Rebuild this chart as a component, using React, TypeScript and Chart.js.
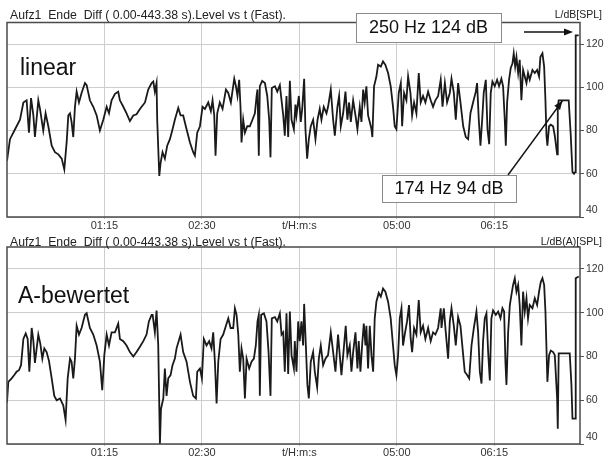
import React, { useEffect, useRef } from 'react';
import { Chart, registerables } from 'chart.js';

Chart.register(...registerables);

// ---- data (time in s, level in dB) ----
const linearTime = [
  0, 2.3, 6.2, 10, 12.6, 15.1, 16.9, 18.5, 20.3, 21.5, 24.1, 25.4, 27.9, 29.7, 31.8, 34.4, 36.9, 39.5, 42.1, 44.1,
  45.9, 47.2, 48.5, 49.7, 51, 52.3, 53.6, 55.4, 57.4, 60, 61.3, 63.8, 66.4, 69, 71.5, 74.1, 76.7, 78.5, 80.5, 83.1,
  85.6, 86.9, 89.5, 92, 94.6, 97.2, 99.7, 102.3, 106.2, 108.7, 111.3,
  112.6, 113.8, 115.1, 115.6, 117.2, 118.2, 119.7, 121.5, 123.3, 125.4, 127.4, 129.2, 131.8, 133.6, 135.6, 138.2,
  140.8, 143.3, 144.6, 146.4, 148.5, 150.5, 152.3, 154.9, 156.9, 158.2, 159.5, 160.5, 161.8, 163.8, 165.9, 168.5,
  170.3, 172.3, 174.9, 176.2, 177.4, 178.7, 179.7, 180.5, 181.8, 183.1, 184.9, 186.9, 188.9, 190.8, 192.1, 192.8,
  193.8, 194.6, 196.4, 198.5, 200.3, 201.8, 202.8, 203.8, 206.2, 208, 210, 211.3, 212.6, 213.8, 215.1, 216.4,
  217.7, 219, 220.8,
  222, 222.8, 224.6, 226.1, 227.2, 228.7, 229.7, 231, 232.3, 233.8, 235.6, 237.4, 239, 240.7, 242, 243.8, 245.9,
  247.1, 249.2, 251, 252.3, 254.3, 255.6, 256.9, 258.7, 260.5, 262, 263.3, 264.6, 266.4, 268.2, 269.7, 271.5,
  272.8, 274.1, 275.3, 276.6, 277.9, 279.2, 280.5, 281.2, 282.5, 284.3, 285.6, 287.7, 289.4, 291.2, 293.3, 295.3,
  297.1, 298.4, 299.7, 301.5, 303.1, 304.1, 305.6, 307.4, 308.7, 310.5, 311.8, 313.3, 315.1, 316.9, 318.4, 320.2,
  322, 324.1, 326.1, 327.9, 329.7, 331.8,
  333.8, 335.2, 337, 338.7, 340.8, 342.1, 343.9, 345.4, 347.2, 349, 351.1, 353.1, 354.9, 356.7, 358.7, 360.8,
  361.8, 363.1, 364.4, 365.7, 366.9, 368.5, 369.8, 371.1, 372.3, 373.6, 375.4, 377.2, 378.7, 380.5, 381.8, 383.1,
  383.9, 384.9, 386.4, 387.7, 389, 390, 391.1, 392.1, 393.4, 394.6, 395.9, 397.2, 398.5, 399.8, 401, 402.3, 404.4,
  406.2, 408, 409.5, 410.5, 412.1, 413.4, 414.4, 415.2, 415.9, 417.2, 418.5, 420.3, 421.6, 423.4, 423.9, 424.6,
  432.3, 433.9, 435.2, 436.4, 437.2, 437.7, 440,
];
const linearLevel = [
  66, 76, 80.6, 85, 93, 94, 79, 95, 87, 77, 94, 90, 80, 88, 82, 73, 70, 69, 67, 62,
  74.5, 87, 88, 84, 77, 91, 98, 93, 97.4, 102, 101, 94, 91, 87, 80, 85, 91, 88, 94, 97,
  98, 94, 91, 88, 84.4, 87, 87.5, 90, 93, 99, 102,
  102.7, 98, 102, 85, 59, 65, 70, 67, 73, 76, 80.6, 85, 90.5, 87, 87, 80.6,
  74.5, 70, 68.4, 79, 82, 91, 90, 93, 89, 94, 87, 68.4, 88, 93, 90, 99,
  97.4, 93, 104, 100.5, 96, 103.5, 91, 74.5, 85, 79, 82, 82, 85, 88, 96, 99,
  68.4, 100.5, 103, 102, 96, 85, 67.6, 99.7, 100.5, 98, 101, 94, 87, 77.6, 96, 77,
  103, 85, 80.6,
  92, 87, 96, 84, 90, 104, 80.6, 67, 76, 82, 85, 76, 85, 90, 85, 91, 88,
  91, 99, 85, 77.6, 91, 96, 82, 88, 98, 85, 93, 84, 94, 87, 80.6, 91,
  84, 99, 93, 100.5, 87, 84, 80.6, 77, 100.5, 105, 110.4, 109.6, 112, 110.4, 106.6, 100.5,
  91, 82, 80.6, 97.4, 102, 82, 97.4, 94, 105, 97.4, 87, 93, 88, 106.6, 93, 96,
  93, 98, 94, 91, 94, 96,
  103.5, 91, 102, 93, 97.4, 104, 97.4, 85, 102, 93, 82, 77, 76, 88, 93, 98,
  102, 85, 73, 85, 97.4, 103.5, 80.6, 73.7, 97.4, 102.7, 100.5, 103.5, 100.5, 104, 100.5, 85,
  73, 93, 103.5, 109, 111, 115.7, 109.6, 114, 106.6, 112.7, 94, 108, 105, 102, 106.6, 103.5, 108,
  106.6, 108, 105, 114, 115.7, 109.6, 94, 77.6, 73, 82, 82.7, 82, 77.6, 69, 91, 94,
  94, 77.6, 60.8, 60, 60.8, 124, 124,
];

const aWeightedTime = [
  0, 1, 3.6, 5.6, 7.4, 9.2, 10.8, 12.6, 14.4, 15.9, 17.2, 19, 20.3, 21.5, 24.1, 25.6, 27.2, 28.7, 30.5, 32.3,
  34.4, 36.4, 38.2, 40.8, 43.3, 45.1, 46.7, 48.5, 49.7, 51, 52.3, 53.6, 55.4, 57.4, 60, 61.3, 63.8, 66.4, 69,
  71.5, 73.3, 74.9, 76.7, 78.5, 80.5, 83.1, 85.6, 86.9, 89.5, 92, 94.6, 97.2, 99.7, 102.3, 104.9, 107.4, 109.2,
  111.3,
  112.1, 113.8, 115.1, 116.4, 117.7, 118.5, 120.3, 121.5, 122.8, 124.1, 125.9, 127.4, 129.2, 130.5, 132.6, 133.6,
  135.6, 138.2, 140.8, 143.3, 145.4, 146.4, 148.5, 150, 151.5, 153.6, 155.6, 157.4, 158.7, 160, 161.3, 162.6,
  164.4, 166.4, 168.5, 170.3, 172.1, 174.1, 175.4, 176.7, 178, 179.2, 180.5, 181.8, 183.1, 184.4, 186.4, 188.2,
  190, 191.5, 192.8, 193.8, 194.6, 195.6, 197.7, 199.7, 201.3, 202.8, 203.8, 206.2, 208, 210, 211.3, 212.6, 213.8,
  215.1, 216.4, 217.7, 219, 220.8,
  221.5, 222.8, 224.1, 225.3, 226.6, 227.9, 228.7, 230, 231.2, 232.3, 233.8, 235.6, 236.9, 238.7, 240, 241.5,
  243.3, 245.1, 247.1, 249.2, 251, 252.8, 254.8, 256.1, 257.4, 259.4, 260.7, 262, 263.8, 265.1, 266.4, 268.2,
  269.7, 270.7, 272, 273.3, 274.6, 275.9, 276.6, 277.9, 279.2, 280.5, 281.8, 283, 284.3, 286.1, 287.7, 289.4,
  291.2, 293.3, 295.3, 297.1, 298.4, 299.7, 301, 302.3, 303.6, 304.8, 306.1, 307.9, 309.4, 310.7, 311.8, 313.3,
  315.1, 316.9, 318.4, 320.2, 322, 324.1, 326.1, 327.9, 329.7, 331.8, 333.8,
  334.4, 336.2, 337.7, 339.5, 340.8, 342.1, 343.9, 345.4, 347.2, 349, 351.1, 352.3, 354.1, 355.7, 357.5, 359.3,
  361.3, 362.6, 363.9, 365.2, 366.4, 367.7, 369, 370.3, 371.6, 372.8, 374.1, 376.2, 378, 379.8, 381.3, 382.6,
  383.6, 384.4, 385.7, 387, 388.2, 389.5, 390.8, 392.1, 393.4, 394.6, 395.9, 397.2, 398.5, 399.8, 401, 402.3,
  404.4, 406.2, 408, 409.5, 410.8, 412.1, 413.4, 414.4, 415.2, 415.9, 417.2, 418.5, 420.3, 421.6, 423.4, 423.9,
  424.6, 433.1, 434.4, 435.2, 437.2, 437.7, 440,
];
const aWeightedLevel = [
  59, 68.4, 70, 71.5, 73, 73.7, 76, 88, 90.5, 88, 73, 93, 87, 77, 90, 86, 79, 83.7, 82, 78,
  70, 62, 60, 60.8, 57.7, 51, 70, 79, 77.6, 70, 79, 94, 90, 93, 99, 99.7, 93, 90, 85,
  77.6, 64.6, 80.6, 90, 85, 91, 91, 95, 88, 87, 85, 82, 80, 82, 84.4, 87, 90, 96,
  99,
  99, 91, 101, 85, 40, 56, 60.8, 74.5, 62, 70, 71.5, 76, 79, 83.7, 88, 90,
  82, 77.6, 68.4, 62, 60.8, 73, 74.5, 70, 88, 85, 87, 83.7, 91, 77.6, 58.5, 77.6,
  88, 90, 94, 97.4, 93, 93, 102, 99, 90, 73, 83.7, 79, 60.8, 79, 74.5, 77.6,
  79, 85, 96, 99, 62, 99, 99.7, 96, 82, 62, 97.4, 98, 96, 99.7, 90, 91, 73,
  99.7, 72, 100.5, 80.6, 74.5,
  87, 73, 96, 87, 96, 85, 104, 85, 67, 60.8, 77.6, 82, 73, 66, 79, 85,
  76, 79, 80.6, 91, 82, 73, 90, 80.6, 71.5, 85, 94, 80.6, 85, 73, 82, 91,
  74.5, 87, 73, 85, 95, 85, 94, 74.5, 94, 80.6, 73, 97.4, 105, 109, 107.3, 111,
  109.6, 105, 97.4, 85, 76, 71.5, 80.6, 97.4, 102, 85, 90, 96, 103.5, 88, 82, 93,
  90, 105.8, 91, 94, 88, 93, 87, 91, 90, 93, 102,
  93, 102, 91, 79, 96, 102, 94, 85, 98, 94, 80.6, 73, 71.5, 70, 85, 93,
  100.5, 91, 73, 67.6, 87, 97.4, 99.7, 82, 69, 97.4, 101, 99, 100.5, 97.4, 102, 100.5,
  77.6, 67, 91, 103.5, 108, 112.7, 115.7, 109.6, 112.7, 103.5, 85, 109.6, 100.5, 106.6, 97.4, 103.5,
  102, 106.6, 103.5, 109.6, 114, 115.7, 112.7, 100.5, 83.7, 68.4, 80.6, 82.7, 82, 80.6, 60.8, 47,
  81.4, 81.4, 67, 51.6, 51.6, 115.7, 116.5,
];

const xTickValues = [75, 150, 225, 300, 375];
const xTickLabels = ['01:15', '02:30', 't/H:m:s', '05:00', '06:15'];
const yTickValues = [40, 60, 80, 100, 120];

const titleText = 'Aufz1  Ende  Diff ( 0.00-443.38 s).Level vs t (Fast).';
const linearUnit = 'L/dB[SPL]';
const aWeightedUnit = 'L/dB(A)[SPL]';
const linearName = 'linear';
const aWeightedName = 'A-bewertet';
const note250 = '250 Hz 124 dB';
const note174 = '174 Hz 94 dB';

const FONT = '"Liberation Sans", Arial, sans-serif';
const INK = '#222';

function arrowHead(ctx: CanvasRenderingContext2D, x0: number, y0: number, x1: number, y1: number) {
  const a = Math.atan2(y1 - y0, x1 - x0);
  const len = 9, hw = 3.6;
  ctx.beginPath();
  ctx.moveTo(x1, y1);
  ctx.lineTo(x1 - len * Math.cos(a) + hw * Math.sin(a), y1 - len * Math.sin(a) - hw * Math.cos(a));
  ctx.lineTo(x1 - len * Math.cos(a) - hw * Math.sin(a), y1 - len * Math.sin(a) + hw * Math.cos(a));
  ctx.closePath();
  ctx.fill();
}

function noteBox(ctx: CanvasRenderingContext2D, text: string, x: number, y: number, w: number, h: number) {
  ctx.save();
  ctx.fillStyle = '#fff';
  ctx.fillRect(x, y, w, h);
  ctx.strokeStyle = '#8a8a8a';
  ctx.lineWidth = 1;
  ctx.strokeRect(x + 0.5, y + 0.5, w, h);
  ctx.fillStyle = '#111';
  ctx.font = `18px ${FONT}`;
  ctx.textAlign = 'center';
  ctx.textBaseline = 'middle';
  ctx.fillText(text, x + w / 2, y + h / 2 + 1);
  ctx.restore();
}

type PanelOpts = {
  top: number;
  xh: number;
  titleY: number;
  unit: string;
  name: string;
  nameY: number;
  nameX: number;
  notes: boolean;
};

function makeFramePlugin(o: PanelOpts) {
  return {
    id: 'frameAndNotes',
    afterDraw(chart: any) {
      const ctx: CanvasRenderingContext2D = chart.ctx;
      const a = chart.chartArea;
      ctx.save();
      // frame
      ctx.strokeStyle = '#4a4a4a';
      ctx.lineWidth = 1.5;
      ctx.strokeRect(a.left, a.top, a.right - a.left, a.bottom - a.top);
      // lowest y label sits just above the bottom border
      ctx.fillStyle = '#333';
      ctx.font = `10.5px ${FONT}`;
      ctx.textAlign = 'left';
      ctx.textBaseline = 'middle';
      ctx.fillText(String(yTickValues[0]), a.right + 6, a.bottom - 7);
      // title
      ctx.fillStyle = INK;
      ctx.textBaseline = 'alphabetic';
      ctx.font = `10px ${FONT}`;
      const w = ctx.measureText(titleText).width;
      const size = (10 * 276) / w;
      ctx.font = `${size.toFixed(2)}px ${FONT}`;
      ctx.fillText(titleText, 10, o.titleY);
      // unit
      ctx.font = `10.5px ${FONT}`;
      ctx.textAlign = 'right';
      ctx.fillText(o.unit, 602, o.titleY - 1);
      // panel name
      ctx.fillStyle = '#111';
      ctx.textAlign = 'left';
      ctx.font = `23px ${FONT}`;
      ctx.fillText(o.name, o.nameX, o.nameY);
      if (o.notes) {
        const xs = chart.scales.x;
        const ys = chart.scales.y;
        ctx.fillStyle = '#111';
        ctx.strokeStyle = '#111';
        ctx.lineWidth = 1.4;
        // 124 dB arrow
        noteBox(ctx, note250, 356, 13, 145, 29);
        ctx.beginPath();
        ctx.moveTo(524, 32);
        ctx.lineTo(566, 32);
        ctx.stroke();
        arrowHead(ctx, 524, 32, 573, 32);
        // 94 dB arrow pointing at plateau
        const tx = xs.getPixelForValue(427.5);
        const ty = ys.getPixelForValue(93.8);
        ctx.beginPath();
        ctx.moveTo(508, 175);
        ctx.lineTo(tx, ty);
        ctx.stroke();
        arrowHead(ctx, 508, 175, tx, ty);
        noteBox(ctx, note174, 382, 175, 134, 27);
      }
      ctx.restore();
    },
  };
}

function makeConfig(times: number[], levels: number[], o: PanelOpts): any {
  const points = times.map((t, i) => ({ x: t, y: levels[i] }));
  return {
    type: 'line',
    data: {
      datasets: [
        {
          data: points,
          borderColor: '#1a1a1a',
          borderWidth: 1.8,
          pointRadius: 0,
          tension: 0,
          fill: false,
        },
      ],
    },
    options: {
      animation: false,
      responsive: false,
      maintainAspectRatio: false,
      events: [],
      layout: { padding: { left: 7, top: o.top, right: 0, bottom: 0 } },
      plugins: { legend: { display: false }, tooltip: { enabled: false }, title: { display: false } },
      scales: {
        x: {
          type: 'linear',
          min: 0,
          max: 441,
          afterBuildTicks: (s: any) => {
            s.ticks = xTickValues.map((v) => ({ value: v }));
          },
          afterFit: (s: any) => {
            s.height = o.xh;
          },
          ticks: {
            autoSkip: false,
            maxRotation: 0,
            padding: 0,
            color: '#333',
            font: { family: FONT, size: 11 },
            callback: (v: number) => {
              const i = xTickValues.indexOf(v);
              return i >= 0 ? xTickLabels[i] : '';
            },
          },
          grid: { color: '#cdcdcd', lineWidth: 1, tickLength: 2, tickColor: '#bbb' },
          border: { display: false },
        },
        y: {
          type: 'linear',
          position: 'right',
          min: 40,
          max: 130,
          afterBuildTicks: (s: any) => {
            s.ticks = yTickValues.map((v) => ({ value: v }));
          },
          afterFit: (s: any) => {
            s.width = 29;
          },
          ticks: {
            padding: 2,
            color: '#333',
            font: { family: FONT, size: 10.5 },
            callback: (v: number) => (v === yTickValues[0] ? '' : String(v)),
          },
          grid: { color: '#cdcdcd', lineWidth: 1, tickLength: 4, tickColor: '#555' },
          border: { display: false },
        },
      },
    },
    plugins: [makeFramePlugin(o)],
  };
}

function Panel({
  times,
  levels,
  opts,
  height,
  top,
}: {
  times: number[];
  levels: number[];
  opts: PanelOpts;
  height: number;
  top: number;
}) {
  const ref = useRef<HTMLCanvasElement | null>(null);
  useEffect(() => {
    if (!ref.current) return;
    const chart = new Chart(ref.current, makeConfig(times, levels, opts));
    return () => chart.destroy();
  }, []);
  return (
    <canvas
      ref={ref}
      width={609}
      height={height}
      style={{ position: 'absolute', left: 0, top, display: 'block', width: 609, height }}
    />
  );
}

export default function App() {
  const topOpts: PanelOpts = {
    top: 22.5,
    xh: 23,
    titleY: 19,
    unit: linearUnit,
    name: linearName,
    nameX: 20,
    nameY: 75,
    notes: true,
  };
  const bottomOpts: PanelOpts = {
    top: 17,
    xh: 17,
    titleY: 16,
    unit: aWeightedUnit,
    name: aWeightedName,
    nameX: 18,
    nameY: 73,
    notes: false,
  };
  return (
    <div style={{ position: 'absolute', left: 0, top: 0, width: 609, height: 461, background: '#fff' }}>
      <Panel times={linearTime} levels={linearLevel} opts={topOpts} height={240} top={0} />
      <Panel times={aWeightedTime} levels={aWeightedLevel} opts={bottomOpts} height={231} top={230} />
    </div>
  );
}
